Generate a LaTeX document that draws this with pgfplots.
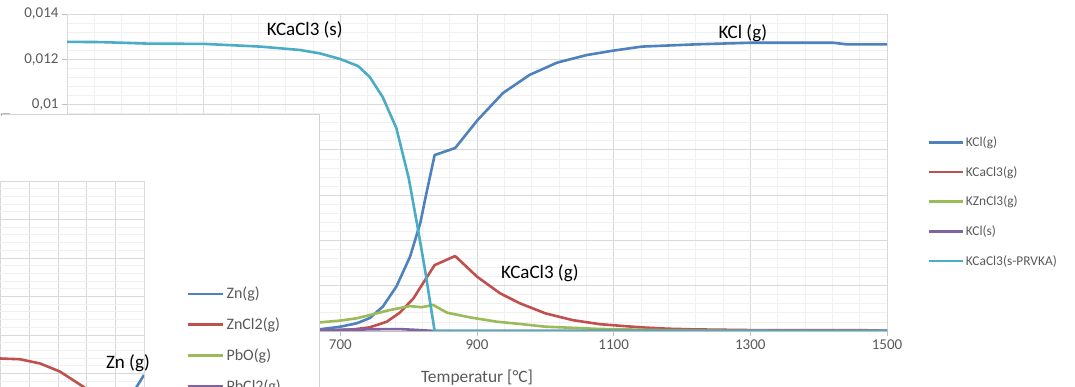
\documentclass[border=0pt]{standalone}
\usepackage{pgfplots}
\pgfplotsset{compat=1.18}
\usepackage{fontspec}
\setmainfont{Carlito}
\definecolor{sBlue}{HTML}{4F81BD}
\definecolor{sRed}{HTML}{C0504D}
\definecolor{sGreen}{HTML}{9BBB59}
\definecolor{sPurple}{HTML}{8064A2}
\definecolor{sCyan}{HTML}{4BACC6}
\definecolor{tickgray}{HTML}{595959}
\definecolor{gmaj}{HTML}{D9D9D9}
\definecolor{gmin}{HTML}{F0F0F0}
\definecolor{axgray}{HTML}{BFBFBF}
\begin{document}
\begin{tikzpicture}[x=1pt,y=1pt]
\path[use as bounding box] (0,0) rectangle (1075,387);
\clip (0,0) rectangle (1075,387);
\begin{axis}[
  at={(67pt,56pt)}, anchor=south west,
  scale only axis, width=820pt, height=317pt,
  xmin=300, xmax=1500, ymin=0, ymax=0.014,
  xtick={300,500,700,900,1100,1300,1500},
  ytick={0,0.002,0.004,0.006,0.008,0.01,0.012,0.014},
  scaled y ticks=false,
  minor x tick num=4, minor y tick num=4,
  grid=both,
  major grid style={gmaj, line width=0.8pt},
  minor grid style={gmin, line width=0.8pt},
  axis x line=bottom, axis y line=left,
  x axis line style={-, draw=axgray, line width=0.8pt},
  y axis line style={-, draw=gmaj, line width=0.8pt},
  tick align=outside, major tick length=5pt, minor tick length=0pt,
  tick style={axgray, line width=0.8pt},
  /pgf/number format/assume math mode=true,
  ticklabel style={font=\fontsize{15}{18}\selectfont, text=tickgray},
  y tick label style={/pgf/number format/use comma, /pgf/number format/fixed, /pgf/number format/precision=3},
  x tick label style={/pgf/number format/1000 sep={}},
  xlabel={Temperatur [°C]},
  xlabel style={font=\fontsize{17.4}{20}\selectfont, text=tickgray, at={(axis description cs:0.5,-0.148)}, anchor=center},
  legend style={draw=none, fill=none, at={(1.049,0.62)}, anchor=north west,
    font=\fontsize{13.4}{16}\selectfont, text=tickgray, row sep=14.4pt, cells={anchor=west}, inner sep=0pt},
  legend image code/.code={\draw[#1] (0pt,0pt) -- (34pt,0pt);},
  every axis plot/.append style={line width=2.6pt, line join=round, no markers},
]
\addplot[sBlue] coordinates {
(300,0) (500,0.00001) (600,0.00003) (640,0.00005) (670,0.000075) (700,0.00019) (724,0.00034)
(743,0.00057) (762,0.00107) (782,0.00196) (802,0.00328) (817,0.00477) (826,0.00609)
(838,0.00777) (868,0.00808) (901,0.00932) (938,0.01051) (977,0.01131) (1017,0.01185)
(1061,0.01219) (1099,0.01238) (1141,0.01256) (1221,0.01266) (1300,0.01273) (1421,0.01273)
(1441,0.01266) (1500,0.01266)};
\addlegendentry{KCl(g)}
\addplot[sRed] coordinates {
(300,0) (640,0) (670,0.00001) (719,0.00007) (743,0.00016) (768,0.00041) (787,0.00081)
(807,0.00144) (821,0.00211) (838,0.00291) (868,0.00331) (900,0.00240) (934,0.00166)
(963,0.00122) (1000,0.00078) (1040,0.00048) (1080,0.00030) (1140,0.00016) (1180,0.00010)
(1220,0.00007) (1300,0.00004) (1460,0.00004) (1500,0.00001)};
\addlegendentry{KCaCl3(g)}
\addplot[sGreen] coordinates {
(300,0.00005) (500,0.00015) (600,0.00028) (670,0.00038) (700,0.00046) (724,0.00056)
(748,0.00074) (773,0.00093) (802,0.00110) (819,0.00105) (836,0.00115) (856,0.00081)
(890,0.00060) (929,0.00041) (963,0.00031) (1000,0.00019) (1080,0.00009) (1170,0.00004)
(1300,0.00001) (1500,0)};
\addlegendentry{KZnCl3(g)}
\addplot[sPurple] coordinates {
(300,0.00002) (600,0.00004) (670,0.00004) (720,0.00006) (760,0.00008) (790,0.00008)
(810,0.00005) (838,0) (1500,0)};
\addlegendentry{KCl(s)}
\addplot[sCyan] coordinates {
(300,0.01277) (349,0.01276) (420,0.01269) (500,0.01268) (583,0.01256) (641,0.01241)
(670,0.01226) (700,0.01201) (726,0.01170) (743,0.01122) (762,0.01033) (782,0.00896)
(800,0.00676) (812,0.00477) (824,0.00269) (838,0) (1500,0)};
\addlegendentry{KCaCl3(s-PRVKA)}
\node[font=\fontsize{19}{22}\selectfont] at (axis cs:648,0.01329) {KCaCl3 (s)};
\node[font=\fontsize{19}{22}\selectfont] at (axis cs:1289,0.01316) {KCl (g)};
\node[font=\fontsize{19}{22}\selectfont] at (axis cs:992,0.00256) {KCaCl3 (g)};
\end{axis}
% overlay window of a second chart
\fill[white] (-2,-2) rectangle (319,272);
\draw[gray!35, line width=1pt] (319,-2) -- (319,272) -- (-2,272);
\draw[gray!55, line width=0.8pt] (1.5,271) -- (1.5,274) -- (10,274);
\begin{axis}[
  at={(-143pt,-63.5pt)}, anchor=south west,
  scale only axis, width=287pt, height=269.5pt,
  xmin=0, xmax=10, ymin=0, ymax=7,
  xtick={0,1,2,3,4,5,6,7,8,9,10}, ytick={0,1,2,3,4,5,6,7},
  minor y tick num=4,
  grid=both,
  major grid style={gmaj, line width=0.8pt},
  minor grid style={gmin, line width=0.8pt},
  axis line style={draw=none},
  xticklabels={}, yticklabels={},
  major tick length=0pt, minor tick length=0pt,
  clip mode=individual,
  legend style={draw=none, fill=none, at={(1.149,0.614)}, anchor=north west,
    font=\fontsize{16}{19}\selectfont, text=tickgray, row sep=13.5pt, cells={anchor=west}, inner sep=0pt},
  legend image code/.code={\draw[#1] (0pt,0pt) -- (35pt,0pt);},
  every axis plot/.append style={line width=2.6pt, line join=round, no markers},
]
\addplot[sBlue] coordinates {(8.5,0.3) (9.0,0.75) (9.746,1.656) (10.0,1.961)};
\addlegendentry{Zn(g)}
\addplot[sRed] coordinates {(0,2.45) (2,2.44) (4,2.42) (4.98,2.39) (5.68,2.37) (6.38,2.26) (7.07,2.05) (7.88,1.66) (8.5,1.3) (9,0.9) (10,0.3)};
\addlegendentry{ZnCl2(g)}
\addplot[sGreen] coordinates {(0,0.05) (5,0.1) (10,0.15)};
\addlegendentry{PbO(g)}
\addplot[sPurple] coordinates {(0,0.1) (5,0.08) (10,0.05)};
\addlegendentry{PbCl2(g)}
\node[font=\fontsize{19}{22}\selectfont] at (axis cs:9.44,2.27) {Zn (g)};
\end{axis}
\end{tikzpicture}
\end{document}
